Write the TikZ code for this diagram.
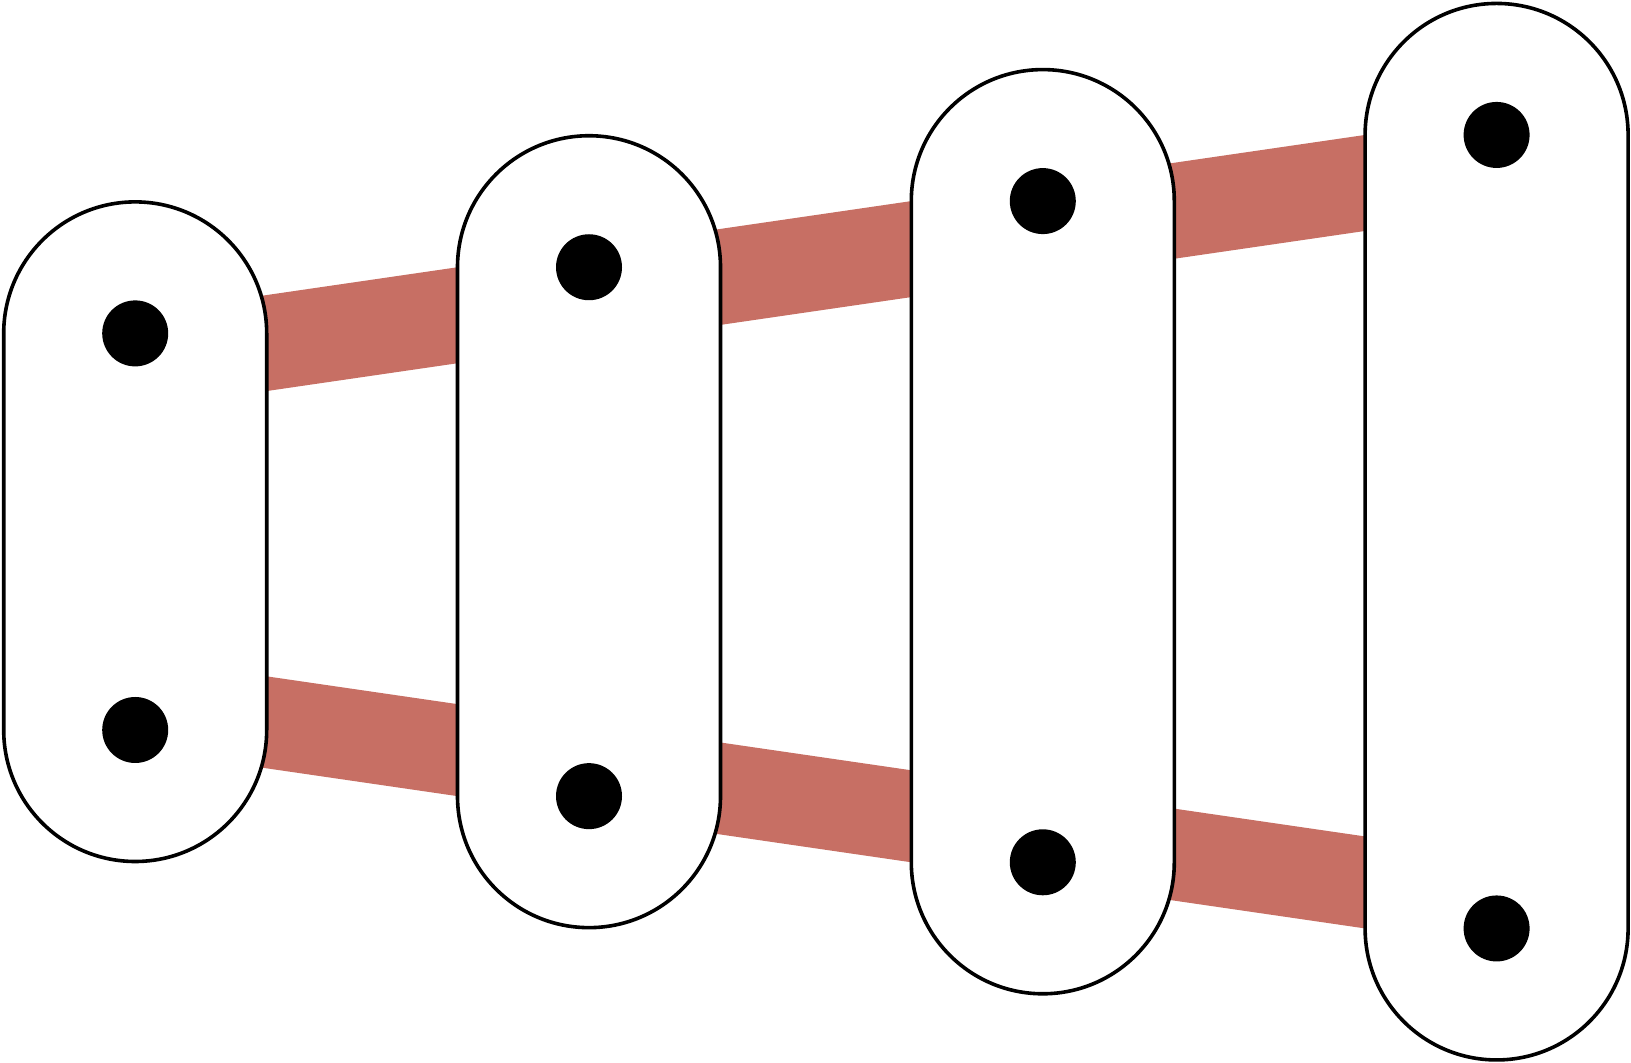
\documentclass[tikz,border=0pt]{standalone}
\definecolor{bandred}{RGB}{199,111,100}
\tikzset{
  capsule/.style={draw=black, fill=white, line width=3.6pt},
  pin/.style={circle, fill=black, inner sep=0pt, minimum size=66pt},
  bandfill/.style={fill=bandred}
}
\begin{document}
\begin{tikzpicture}[x=1pt,y=1pt]
\useasboundingbox (0,0) rectangle (1631,1063);
\def\r{131.5}
\def\s{0.14577}
% bands (drawn behind the links)
\foreach \i in {0,1,2}{
  \pgfmathsetmacro\cxa{135.2+453.8*\i}
  \pgfmathsetmacro\cxb{135.2+453.8*(\i+1)}
  \pgfmathsetmacro\hb{198.3+66.15*(\i+1)}
  \pgfmathsetmacro\xL{\cxa+\r-15}
  \pgfmathsetmacro\xR{\cxb-\r}
  \pgfmathsetmacro\xRR{\xR+10}
  \pgfmathsetmacro\tL{1063-(531.7-\hb+\s*(\xR-\xL))}
  \pgfmathsetmacro\tR{1063-(531.7-\hb+\s*(\xR-\xRR))}
  \pgfmathsetmacro\tLb{\tL-96}
  \pgfmathsetmacro\tRb{\tR-96}
  \fill[bandfill] (\xL,\tL) -- (\xRR,\tR) -- (\xRR,\tRb) -- (\xL,\tLb) -- cycle;
  \pgfmathsetmacro\bL{1063-(531.7+\hb-\s*(\xR-\xL))}
  \pgfmathsetmacro\bR{1063-(531.7+\hb-\s*(\xR-\xRR))}
  \pgfmathsetmacro\bLt{\bL+92}
  \pgfmathsetmacro\bRt{\bR+92}
  \fill[bandfill] (\xL,\bL) -- (\xRR,\bR) -- (\xRR,\bRt) -- (\xL,\bLt) -- cycle;
}
% links
\foreach \i in {0,1,2,3}{
  \pgfmathsetmacro\cx{135.2+453.8*\i}
  \pgfmathsetmacro\h{198.3+66.15*\i}
  \pgfmathsetmacro\yt{1063-531.7+\h}
  \pgfmathsetmacro\yb{1063-531.7-\h}
  \pgfmathsetmacro\xl{\cx-\r}
  \pgfmathsetmacro\xr{\cx+\r}
  \draw[capsule] (\xl,\yb) -- (\xl,\yt) arc[start angle=180,end angle=0,radius=\r] -- (\xr,\yb) arc[start angle=0,end angle=-180,radius=\r] -- cycle;
  \node[pin] (top\i) at (\cx,\yt) {};
  \node[pin] (bot\i) at (\cx,\yb) {};
}
\end{tikzpicture}
\end{document}
